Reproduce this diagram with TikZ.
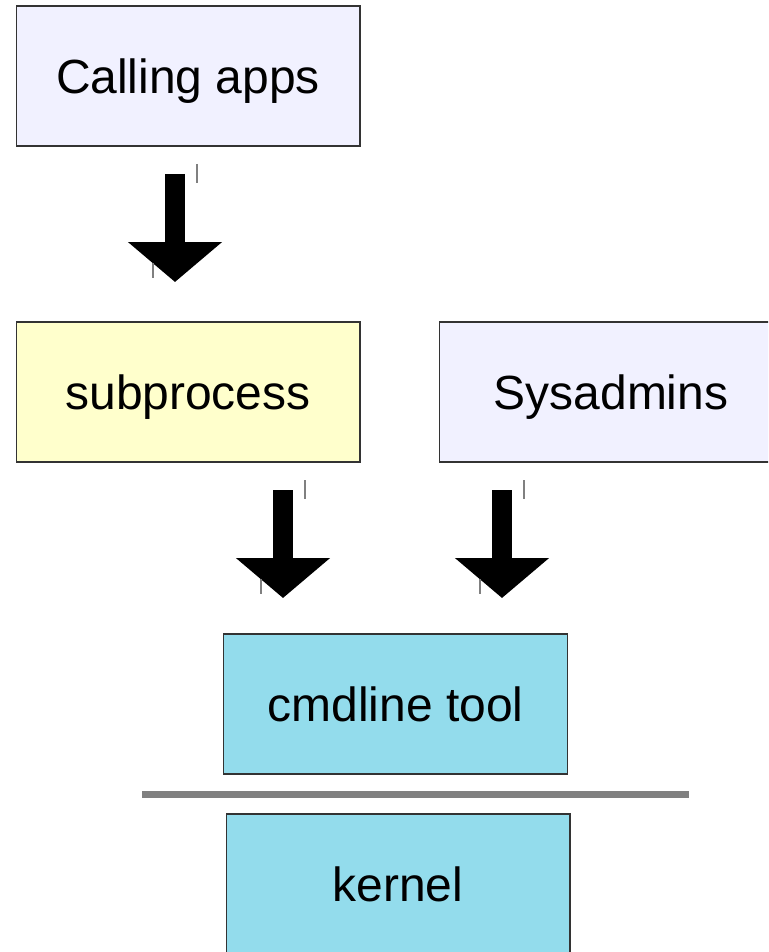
\documentclass[tikz,border=0pt]{standalone}
\usepackage{fontspec}
\setmainfont{Liberation Sans}
\usetikzlibrary{arrows.meta}
\definecolor{appsblue}{RGB}{241,241,255}
\definecolor{procyellow}{RGB}{255,255,204}
\definecolor{toolcyan}{RGB}{147,220,236}
\tikzstyle{layer}=[draw=black!80, line width=0.6pt, minimum width=6.88cm, minimum height=2.8cm, inner sep=0pt, text height=19.5pt, text depth=0pt, font=\fontsize{27.3}{32}\selectfont]
\tikzstyle{calls}=[line width=0.4cm, -{Triangle[width=1.84cm, length=0.8cm]}]
\tikzstyle{tick}=[draw=black!50, line width=0.6pt]

\begin{document}
\begin{tikzpicture}[x=0.02cm, y=-0.02cm]
        \clip (0, 0) rectangle (768, 952);
        \useasboundingbox (0, 0) rectangle (768, 952);
        % boxes
        \node[layer, fill=appsblue] (apps) at (188, 76) {Calling apps};
        \node[layer, fill=procyellow] (subproc) at (188, 392) {subprocess};
        \node[layer, fill=appsblue] (admins) at (611, 392) {Sysadmins};
        \node[layer, fill=toolcyan] (cmdline) at (395.5, 704) {cmdline tool};
        \node[layer, fill=toolcyan] (kernel) at (398, 884) {kernel};
        % arrow ends
        \coordinate (A1) at (175, 174);
        \coordinate (B1) at (175, 282);
        \coordinate (A2) at (283, 490);
        \coordinate (B2) at (283, 598);
        \coordinate (A3) at (502, 490);
        \coordinate (B3) at (502, 598);
        \draw[calls] (A1) -- (B1);
        \draw[calls] (A2) -- (B2);
        \draw[calls] (A3) -- (B3);
        % handle marks
        \draw[tick] (A1) ++(22, -10) -- +(0, 19);
        \draw[tick] (B1) ++(-22, -19) -- +(0, 15);
        \draw[tick] (A2) ++(22, -10) -- +(0, 19);
        \draw[tick] (B2) ++(-22, -19) -- +(0, 15);
        \draw[tick] (A3) ++(22, -10) -- +(0, 19);
        \draw[tick] (B3) ++(-22, -19) -- +(0, 15);
        % user/kernel boundary
        \draw[draw=black!50, line width=0.14cm] (142, 794) -- (689, 794);
    \end{tikzpicture}
\end{document}
